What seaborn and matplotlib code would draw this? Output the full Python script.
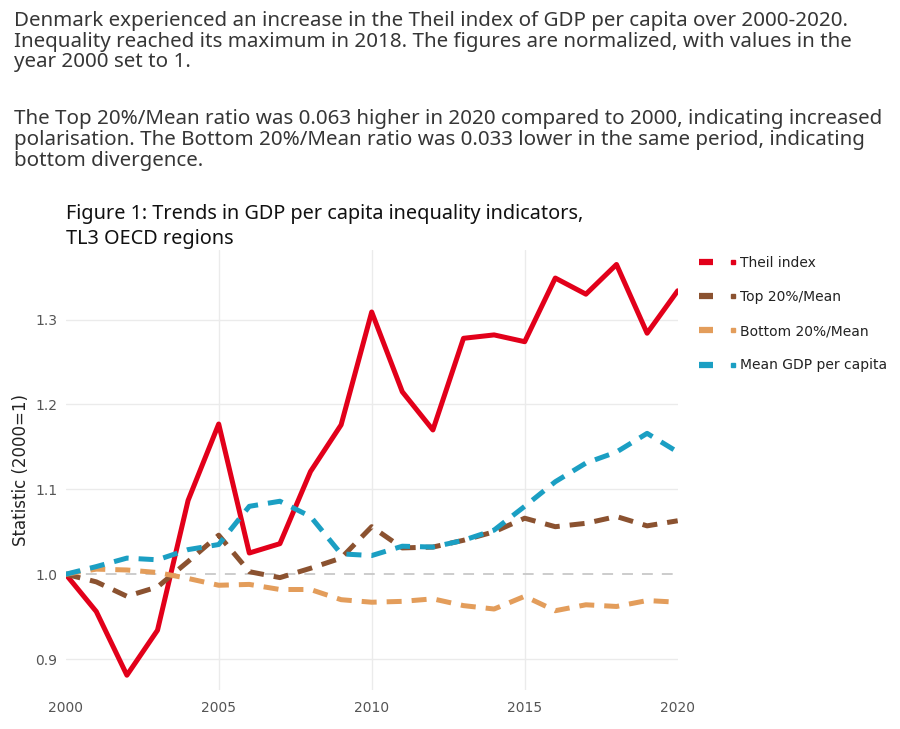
import pandas as pd
import seaborn as sns
import matplotlib.pyplot as plt
from matplotlib.lines import Line2D
from matplotlib.legend_handler import HandlerTuple

# dados (2000 = 1)
years = list(range(2000, 2021))
theil = [1.000, 0.956, 0.881, 0.934, 1.087, 1.177, 1.025, 1.036, 1.121, 1.176,
         1.309, 1.215, 1.170, 1.278, 1.282, 1.274, 1.349, 1.330, 1.365, 1.284, 1.334]
top20 = [1.000, 0.991, 0.974, 0.985, 1.015, 1.046, 1.003, 0.996, 1.007, 1.019,
         1.056, 1.031, 1.032, 1.040, 1.050, 1.066, 1.056, 1.060, 1.068, 1.057, 1.063]
bottom20 = [1.000, 1.006, 1.005, 1.002, 0.995, 0.987, 0.988, 0.982, 0.982, 0.970,
            0.967, 0.968, 0.971, 0.963, 0.959, 0.974, 0.957, 0.964, 0.962, 0.969, 0.967]
mean_gdp = [1.000, 1.009, 1.019, 1.017, 1.029, 1.035, 1.080, 1.086, 1.068, 1.024,
            1.022, 1.033, 1.032, 1.040, 1.052, 1.080, 1.109, 1.131, 1.144, 1.166, 1.144]

series_names = ['Theil index', 'Top 20%/Mean', 'Bottom 20%/Mean', 'Mean GDP per capita']
series_colors = ['#E2001A', '#8B5230', '#E39D5B', '#1B9FC3']
series_dashes = ['', (3.0, 2.0), (3.0, 2.0), (3.0, 2.0)]

df = pd.DataFrame({
    'year': years * 4,
    'value': theil + top20 + bottom20 + mean_gdp,
    'series': sum([[s] * len(years) for s in series_names], []),
})

sns.set_theme(style='white')
plt.rcParams['font.family'] = ['DejaVu Sans']

fig = plt.figure(figsize=(9, 7.29), dpi=100)
ax = fig.add_axes([0.073, 0.054, 0.680, 0.603])

# linha de referência em 1.0
ax.axhline(1.0, color='#c8c8c8', lw=1.3, ls=(0, (6, 5)), zorder=1)

sns.lineplot(data=df, x='year', y='value', hue='series', style='series',
             hue_order=series_names, style_order=series_names,
             palette=series_colors, dashes=series_dashes,
             linewidth=3.6, legend=False, ax=ax, zorder=3)

ax.set_xlim(2000, 2020)
ax.set_ylim(0.864, 1.382)
ax.set_xticks([2000, 2005, 2010, 2015, 2020])
ax.set_yticks([0.9, 1.0, 1.1, 1.2, 1.3])
ax.set_yticklabels(['0.9', '1.0', '1.1', '1.2', '1.3'])

for x in [2005, 2010, 2015]:
    ax.axvline(x, color='#ebebeb', lw=1, zorder=0)
for y in [0.9, 1.1, 1.2, 1.3]:
    ax.axhline(y, color='#ebebeb', lw=1, zorder=0)

for s in ax.spines.values():
    s.set_visible(False)
ax.tick_params(axis='both', length=0, labelsize=10, colors='#555555')
ax.tick_params(axis='x', pad=8)
ax.tick_params(axis='y', pad=6)
ax.set_xlabel('')
ax.set_ylabel('Statistic (2000=1)', fontsize=12, color='#222222', labelpad=4)

# legenda: linha + pequeno marcador quadrado
handles = []
for c in series_colors:
    ln = Line2D([], [], color=c, lw=4.5, solid_capstyle='butt')
    mk = Line2D([], [], color=c, lw=0, marker='s', markersize=3)
    handles.append((ln, mk))
ax.legend(handles, series_names, handler_map={tuple: HandlerTuple(ndivide=None, pad=0.9)},
          loc='upper left', bbox_to_anchor=(1.015, 1.015), frameon=False,
          fontsize=10, handlelength=2.9, handletextpad=0.05, labelspacing=1.45,
          labelcolor='#222222')

# textos no topo
intro = ("Denmark experienced an increase in the Theil index of GDP per capita over 2000-2020.\n"
         "Inequality reached its maximum in 2018. The figures are normalized, with values in the\n"
         "year 2000 set to 1.")
intro2 = ("The Top 20%/Mean ratio was 0.063 higher in 2020 compared to 2000, indicating increased\n"
          "polarisation. The Bottom 20%/Mean ratio was 0.033 lower in the same period, indicating\n"
          "bottom divergence.")
fig.text(0.016, 0.985, intro, ha='left', va='top', fontsize=14.8, color='#363636',
         family=['Noto Sans', 'DejaVu Sans'], linespacing=1.05)
fig.text(0.016, 0.850, intro2, ha='left', va='top', fontsize=14.8, color='#363636',
         family=['Noto Sans', 'DejaVu Sans'], linespacing=1.05)
fig.text(0.073, 0.720, "Figure 1: Trends in GDP per capita inequality indicators,\nTL3 OECD regions",
         ha='left', va='top', fontsize=14.3, color='#111111',
         family=['Noto Sans', 'DejaVu Sans'], linespacing=1.3)

fig.savefig('out.png', dpi=100)
